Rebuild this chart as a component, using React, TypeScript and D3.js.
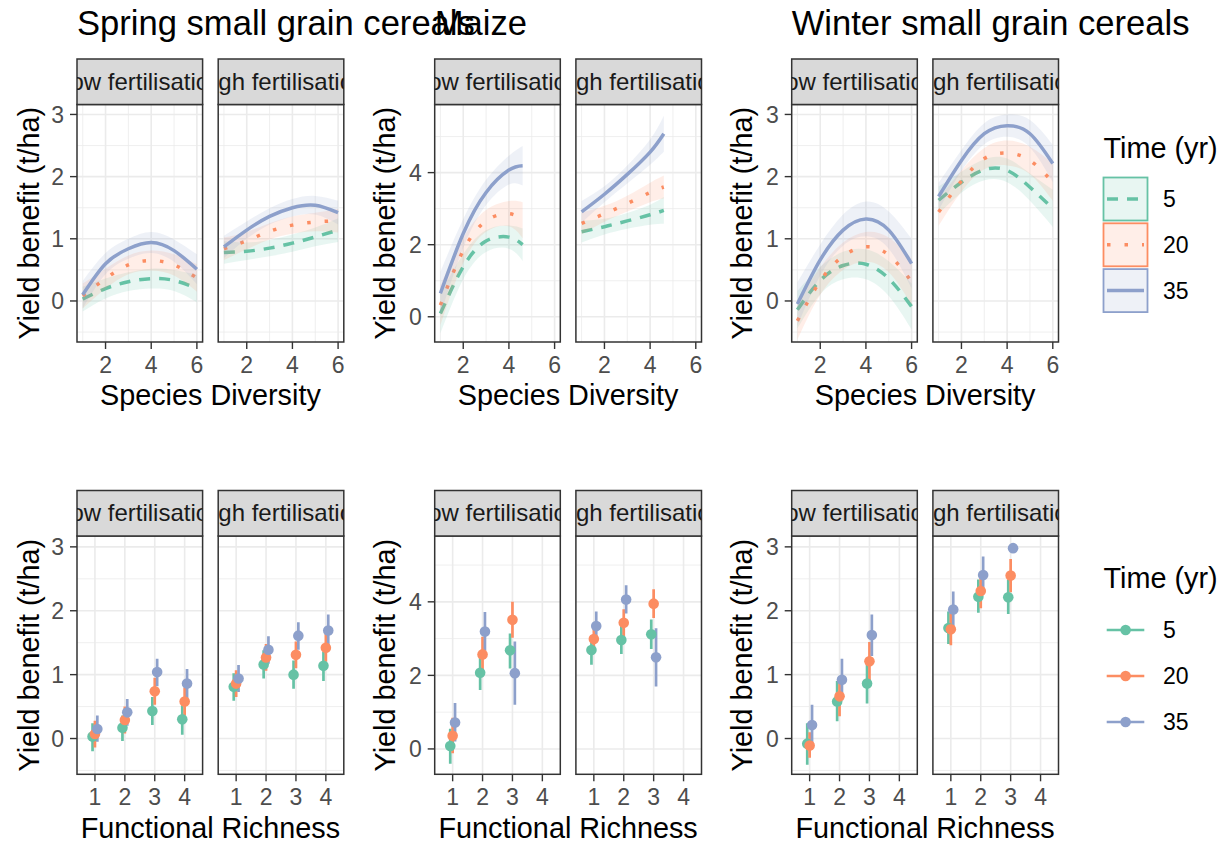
import React from "react";
import * as d3 from "d3";

const FONT = "'Liberation Sans', Arial, Helvetica, sans-serif";

const cropTitles = ["Spring small grain cereals", "Maize", "Winter small grain cereals"];
const fertLabels = ["Low fertilisation", "High fertilisation"];
const timeLevels = ["5", "20", "35"];
const timeColors = ["#66C2A5", "#FC8D62", "#8DA0CB"];
const timeDash = ["11,9", "3.5,14", "none"];

// Species diversity values at which the fitted curves are given
const diversityGrid = [1, 2, 3, 4, 5, 6];
const maizeDiversityGrid = [1, 2, 3, 4, 4.6];
const richnessLevels = [1, 2, 3, 4];

// Fitted yield benefit (t/ha); rows are 5, 20, 35 yr
const springLowFit = [
  [0.03, 0.2, 0.31, 0.36, 0.33, 0.2],
  [0.08, 0.36, 0.58, 0.65, 0.58, 0.37],
  [0.1, 0.6, 0.84, 0.94, 0.81, 0.51],
];
const springHighFit = [
  [0.78, 0.8, 0.85, 0.93, 1.03, 1.14],
  [0.84, 0.97, 1.12, 1.22, 1.27, 1.29],
  [0.87, 1.14, 1.36, 1.5, 1.54, 1.42],
];
const maizeLowFit = [
  [0.09, 1.39, 2.1, 2.21, 2.0],
  [0.32, 1.84, 2.66, 2.86, 2.68],
  [0.65, 2.31, 3.45, 4.07, 4.19],
];
const maizeHighFit = [
  [2.36, 2.5, 2.66, 2.83, 2.95],
  [2.59, 2.86, 3.14, 3.45, 3.6],
  [2.91, 3.4, 3.95, 4.57, 5.08],
];
const winterLowFit = [
  [-0.14, 0.33, 0.57, 0.59, 0.36, -0.09],
  [-0.32, 0.32, 0.72, 0.87, 0.74, 0.31],
  [-0.05, 0.66, 1.14, 1.32, 1.14, 0.6],
];
const winterHighFit = [
  [1.62, 1.91, 2.11, 2.1, 1.83, 1.49],
  [1.43, 1.93, 2.29, 2.38, 2.26, 1.91],
  [1.68, 2.26, 2.69, 2.82, 2.69, 2.21],
];

// Confidence band half-widths (t/ha)
const springLowSe = [
  [0.2, 0.16, 0.15, 0.16, 0.17, 0.22],
  [0.2, 0.16, 0.15, 0.16, 0.17, 0.22],
  [0.22, 0.17, 0.16, 0.17, 0.18, 0.24],
];
const springHighSe = [
  [0.18, 0.14, 0.13, 0.14, 0.15, 0.19],
  [0.18, 0.14, 0.13, 0.14, 0.15, 0.19],
  [0.18, 0.14, 0.13, 0.14, 0.15, 0.19],
];
const maizeLowSe = [
  [0.55, 0.35, 0.3, 0.32, 0.45],
  [0.55, 0.35, 0.3, 0.35, 0.5],
  [0.6, 0.4, 0.35, 0.4, 0.55],
];
const maizeHighSe = [
  [0.3, 0.22, 0.22, 0.28, 0.37],
  [0.3, 0.22, 0.22, 0.27, 0.32],
  [0.3, 0.22, 0.25, 0.35, 0.5],
];
const winterLowSe = [
  [0.3, 0.22, 0.22, 0.24, 0.28, 0.37],
  [0.3, 0.22, 0.22, 0.24, 0.28, 0.37],
  [0.35, 0.25, 0.25, 0.28, 0.3, 0.4],
];
const winterHighSe = [
  [0.22, 0.17, 0.17, 0.19, 0.22, 0.3],
  [0.22, 0.17, 0.17, 0.2, 0.22, 0.3],
  [0.22, 0.17, 0.17, 0.18, 0.22, 0.3],
];

// Mean yield benefit by functional richness, with interval bounds
const springLowMean = [
  [0.03, 0.17, 0.43, 0.3],
  [0.07, 0.29, 0.74, 0.58],
  [0.15, 0.41, 1.04, 0.86],
];
const springLowLo = [
  [-0.2, -0.04, 0.21, 0.06],
  [-0.14, 0.08, 0.53, 0.36],
  [-0.05, 0.2, 0.82, 0.62],
];
const springLowHi = [
  [0.24, 0.36, 0.65, 0.52],
  [0.28, 0.5, 0.95, 0.8],
  [0.36, 0.62, 1.25, 1.09],
];
const springHighMean = [
  [0.81, 1.16, 1.0, 1.14],
  [0.86, 1.27, 1.31, 1.42],
  [0.94, 1.39, 1.61, 1.69],
];
const springHighLo = [
  [0.59, 0.94, 0.78, 0.9],
  [0.65, 1.06, 1.1, 1.2],
  [0.73, 1.17, 1.39, 1.44],
];
const springHighHi = [
  [1.02, 1.38, 1.22, 1.36],
  [1.07, 1.48, 1.52, 1.64],
  [1.15, 1.6, 1.82, 1.94],
];
const maizeLowMean = [
  [0.08, 2.07, 2.68],
  [0.36, 2.57, 3.51],
  [0.72, 3.19, 2.06],
];
const maizeLowLo = [
  [-0.4, 1.6, 2.19],
  [-0.12, 2.1, 3.02],
  [0.2, 2.67, 1.2],
];
const maizeLowHi = [
  [0.55, 2.53, 3.14],
  [0.85, 3.05, 4.0],
  [1.25, 3.72, 2.92],
];
const maizeHighMean = [
  [2.69, 2.96, 3.12],
  [2.99, 3.43, 3.95],
  [3.34, 4.06, 2.49],
];
const maizeHighLo = [
  [2.29, 2.58, 2.72],
  [2.62, 3.05, 3.56],
  [2.93, 3.68, 1.7],
];
const maizeHighHi = [
  [3.08, 3.34, 3.52],
  [3.36, 3.8, 4.34],
  [3.74, 4.45, 3.28],
];
const winterLowMean = [
  [-0.08, 0.58, 0.86],
  [-0.11, 0.66, 1.21],
  [0.21, 0.92, 1.62],
];
const winterLowLo = [
  [-0.41, 0.27, 0.55],
  [-0.3, 0.35, 0.9],
  [-0.12, 0.6, 1.29],
];
const winterLowHi = [
  [0.24, 0.9, 1.17],
  [0.1, 0.97, 1.51],
  [0.53, 1.25, 1.94],
];
const winterHighMean = [
  [1.73, 2.22, 2.21],
  [1.71, 2.31, 2.55],
  [2.02, 2.56, 2.98],
];
// interval above the axis limit is dropped (null)
const winterHighLo = [
  [1.48, 1.97, 1.95],
  [1.46, 2.04, 2.29],
  [1.76, 2.28, null],
];
const winterHighHi = [
  [1.99, 2.49, 2.49],
  [1.96, 2.58, 2.81],
  [2.3, 2.85, null],
];

// Axis setups
const smallGrainTicks = [0, 1, 2, 3];
const smallGrainMinor = [-0.5, 0.5, 1.5, 2.5];
const maizeTicks = [0, 2, 4];
const maizeMinor = [1, 3, 5];
const diversityTicks = [2, 4, 6];
const diversityMinor = [1, 3, 5];

const topYDomains = [[-0.66, 3.16], [-0.7, 5.89], [-0.66, 3.16]];
const bottomYDomains = [[-0.56, 3.17], [-0.69, 5.79], [-0.56, 3.17]];

const fitData = [
  [springLowFit, springHighFit],
  [maizeLowFit, maizeHighFit],
  [winterLowFit, winterHighFit],
];
const seData = [
  [springLowSe, springHighSe],
  [maizeLowSe, maizeHighSe],
  [winterLowSe, winterHighSe],
];
const gridData = [diversityGrid, maizeDiversityGrid, diversityGrid];
const pointData = [
  [
    [springLowMean, springLowLo, springLowHi],
    [springHighMean, springHighLo, springHighHi],
  ],
  [
    [maizeLowMean, maizeLowLo, maizeLowHi],
    [maizeHighMean, maizeHighLo, maizeHighHi],
  ],
  [
    [winterLowMean, winterLowLo, winterLowHi],
    [winterHighMean, winterHighLo, winterHighHi],
  ],
];

// Layout
const groupLeft = [77, 434.7, 791.7];
const panelW = 125.6;
const panelGap = 15.6;
const stripH = 45.5;
const rowsLayout = [
  { stripTop: 59, panelTop: 104.5, panelBottom: 342, xTitleY: 405 },
  { stripTop: 490.5, panelTop: 536, panelBottom: 774.3, xTitleY: 838 },
];
const yTitleX = [38.5, 395, 752];
const dodge = [-0.08, 0, 0.08];

const GRID = "#EBEBEB";
const DARK = "#333333";
const TICK_TXT = "#4D4D4D";

function PanelFrame({ left, layout, yScale, yTicks, yMinor, xScale, xTicks, xMinor, showY, fert, id, children }) {
  const top = layout.panelTop;
  const bottom = layout.panelBottom;
  const right = left + panelW;
  return (
    <g>
      <defs>
        <clipPath id={`clip-${id}`}>
          <rect x={left} y={top} width={panelW} height={bottom - top} />
        </clipPath>
        <clipPath id={`strip-${id}`}>
          <rect x={left} y={layout.stripTop} width={panelW} height={stripH} />
        </clipPath>
      </defs>
      <rect x={left} y={top} width={panelW} height={bottom - top} fill="#FFFFFF" />
      {yMinor.map((v) => (
        <line key={`ym${v}`} x1={left} x2={right} y1={yScale(v)} y2={yScale(v)} stroke={GRID} strokeWidth={0.8} />
      ))}
      {xMinor.map((v) => (
        <line key={`xm${v}`} y1={top} y2={bottom} x1={xScale(v)} x2={xScale(v)} stroke={GRID} strokeWidth={0.8} />
      ))}
      {yTicks.map((v) => (
        <line key={`yM${v}`} x1={left} x2={right} y1={yScale(v)} y2={yScale(v)} stroke={GRID} strokeWidth={1.6} />
      ))}
      {xTicks.map((v) => (
        <line key={`xM${v}`} y1={top} y2={bottom} x1={xScale(v)} x2={xScale(v)} stroke={GRID} strokeWidth={1.6} />
      ))}
      <g clipPath={`url(#clip-${id})`}>{children}</g>
      <rect x={left} y={top} width={panelW} height={bottom - top} fill="none" stroke={DARK} strokeWidth={1.5} />
      {/* strip */}
      <rect x={left} y={layout.stripTop} width={panelW} height={stripH} fill="#D9D9D9" stroke={DARK} strokeWidth={1.5} />
      <g clipPath={`url(#strip-${id})`}>
        <text
          x={left + panelW / 2}
          y={layout.stripTop + 30.5}
          textAnchor="middle"
          fontFamily={FONT}
          fontSize={24}
          fill="#1A1A1A"
        >
          {fert}
        </text>
      </g>
      {/* x axis */}
      {xTicks.map((v) => (
        <g key={`xt${v}`}>
          <line x1={xScale(v)} x2={xScale(v)} y1={bottom} y2={bottom + 7} stroke={DARK} strokeWidth={1.4} />
          <text x={xScale(v)} y={bottom + 30.5} textAnchor="middle" fontFamily={FONT} fontSize={23} fill={TICK_TXT}>
            {v}
          </text>
        </g>
      ))}
      {showY &&
        yTicks.map((v) => (
          <g key={`yt${v}`}>
            <line x1={left - 7} x2={left} y1={yScale(v)} y2={yScale(v)} stroke={DARK} strokeWidth={1.4} />
            <text x={left - 13} y={yScale(v) + 8.2} textAnchor="end" fontFamily={FONT} fontSize={23} fill={TICK_TXT}>
              {v}
            </text>
          </g>
        ))}
    </g>
  );
}

export default function App() {
  const W = 1225;
  const H = 844;

  const panels = [];
  const titles = [];

  cropTitles.forEach((title, ci) => {
    const isMaize = ci === 1;
    const yTicks = isMaize ? maizeTicks : smallGrainTicks;
    const yMinor = isMaize ? maizeMinor : smallGrainMinor;

    titles.push(
      <text key={`title${ci}`} x={groupLeft[ci]} y={35} fontFamily={FONT} fontSize={34.6} fill="#000">
        {title}
      </text>
    );

    rowsLayout.forEach((layout, ri) => {
      const yDomain = ri === 0 ? topYDomains[ci] : bottomYDomains[ci];
      const yScale = d3.scaleLinear().domain(yDomain).range([layout.panelBottom, layout.panelTop]);
      const groupCenter = groupLeft[ci] + panelW + panelGap / 2;

      // axis titles
      titles.push(
        <text
          key={`xt${ci}-${ri}`}
          x={groupCenter}
          y={layout.xTitleY}
          textAnchor="middle"
          fontFamily={FONT}
          fontSize={28.8}
          fill="#000"
        >
          {ri === 0 ? "Species Diversity" : "Functional Richness"}
        </text>
      );
      const yc = (layout.panelTop + layout.panelBottom) / 2;
      titles.push(
        <text
          key={`yt${ci}-${ri}`}
          transform={`translate(${yTitleX[ci]},${yc}) rotate(-90)`}
          textAnchor="middle"
          fontFamily={FONT}
          fontSize={28.8}
          fill="#000"
        >
          Yield benefit (t/ha)
        </text>
      );

      fertLabels.forEach((fert, fi) => {
        const left = groupLeft[ci] + fi * (panelW + panelGap);
        const id = `p${ci}-${ri}-${fi}`;
        if (ri === 0) {
          const xScale = d3.scaleLinear().domain([0.75, 6.25]).range([left, left + panelW]);
          const xs = gridData[ci];
          const fits = fitData[ci][fi];
          const ses = seData[ci][fi];
          const area = d3
            .area()
            .x((d) => xScale(d[0]))
            .y0((d) => yScale(d[1] - d[2]))
            .y1((d) => yScale(d[1] + d[2]))
            .curve(d3.curveNatural);
          const line = d3
            .line()
            .x((d) => xScale(d[0]))
            .y((d) => yScale(d[1]))
            .curve(d3.curveNatural);
          panels.push(
            <PanelFrame
              key={id}
              id={id}
              left={left}
              layout={layout}
              yScale={yScale}
              yTicks={yTicks}
              yMinor={yMinor}
              xScale={xScale}
              xTicks={diversityTicks}
              xMinor={diversityMinor}
              showY={fi === 0}
              fert={fert}
            >
              {timeLevels.map((t, ti) => {
                const rows = xs.map((x, k) => [x, fits[ti][k], ses[ti][k]]);
                return (
                  <g key={t}>
                    <path d={area(rows)} fill={timeColors[ti]} fillOpacity={0.15} stroke="none" />
                    <path
                      d={line(rows)}
                      fill="none"
                      stroke={timeColors[ti]}
                      strokeWidth={3.5}
                      strokeDasharray={timeDash[ti]}
                    />
                  </g>
                );
              })}
            </PanelFrame>
          );
        } else {
          const xScale = d3.scaleLinear().domain([0.4, 4.6]).range([left, left + panelW]);
          const [means, los, his] = pointData[ci][fi];
          panels.push(
            <PanelFrame
              key={id}
              id={id}
              left={left}
              layout={layout}
              yScale={yScale}
              yTicks={yTicks}
              yMinor={yMinor}
              xScale={xScale}
              xTicks={richnessLevels}
              xMinor={[]}
              showY={fi === 0}
              fert={fert}
            >
              {timeLevels.map((t, ti) =>
                means[ti].map((m, k) => {
                  const lo = los[ti][k];
                  const hi = his[ti][k];
                  if (lo == null || hi == null) return null;
                  const cx = xScale(richnessLevels[k] + dodge[ti]);
                  return (
                    <line
                      key={`b${t}-${k}`}
                      x1={cx}
                      x2={cx}
                      y1={yScale(lo)}
                      y2={yScale(hi)}
                      stroke={timeColors[ti]}
                      strokeWidth={2.7}
                    />
                  );
                })
              )}
              {timeLevels.map((t, ti) =>
                means[ti].map((m, k) => (
                  <circle
                    key={`c${t}-${k}`}
                    cx={xScale(richnessLevels[k] + dodge[ti])}
                    cy={yScale(m)}
                    r={5.3}
                    fill={timeColors[ti]}
                  />
                ))
              )}
            </PanelFrame>
          );
        }
      });
    });
  });

  // legends
  const legendX = 1103.5;
  const topLegend = (
    <g>
      <text x={legendX} y={158} fontFamily={FONT} fontSize={28.8} fill="#000">
        Time (yr)
      </text>
      {timeLevels.map((t, ti) => {
        const y0 = 177.5 + ti * 45.8;
        const cy = y0 + 21.5;
        return (
          <g key={t}>
            <rect x={legendX} y={y0} width={44} height={43} fill="#FFFFFF" />
            <rect
              x={legendX}
              y={y0}
              width={44}
              height={43}
              fill={timeColors[ti]}
              fillOpacity={0.15}
              stroke={timeColors[ti]}
              strokeWidth={1.8}
            />
            <line
              x1={legendX + 3.5}
              x2={legendX + 40.5}
              y1={cy}
              y2={cy}
              stroke={timeColors[ti]}
              strokeWidth={3.5}
              strokeDasharray={timeDash[ti]}
            />
            <text x={1163} y={cy + 8.2} fontFamily={FONT} fontSize={23} fill="#000">
              {t}
            </text>
          </g>
        );
      })}
    </g>
  );
  const bottomLegend = (
    <g>
      <text x={legendX} y={588} fontFamily={FONT} fontSize={28.8} fill="#000">
        Time (yr)
      </text>
      {timeLevels.map((t, ti) => {
        const cy = 630 + ti * 46;
        return (
          <g key={t}>
            <line x1={1106.7} x2={1144.3} y1={cy} y2={cy} stroke={timeColors[ti]} strokeWidth={2.7} />
            <circle cx={1125.6} cy={cy} r={5.3} fill={timeColors[ti]} />
            <text x={1163} y={cy + 8.2} fontFamily={FONT} fontSize={23} fill="#000">
              {t}
            </text>
          </g>
        );
      })}
    </g>
  );

  return (
    <svg
      width={W}
      height={H}
      viewBox={`0 0 ${W} ${H}`}
      style={{ position: "absolute", left: 0, top: 0, background: "#FFFFFF" }}
    >
      <rect x={0} y={0} width={W} height={H} fill="#FFFFFF" />
      {panels}
      {titles}
      {topLegend}
      {bottomLegend}
    </svg>
  );
}
